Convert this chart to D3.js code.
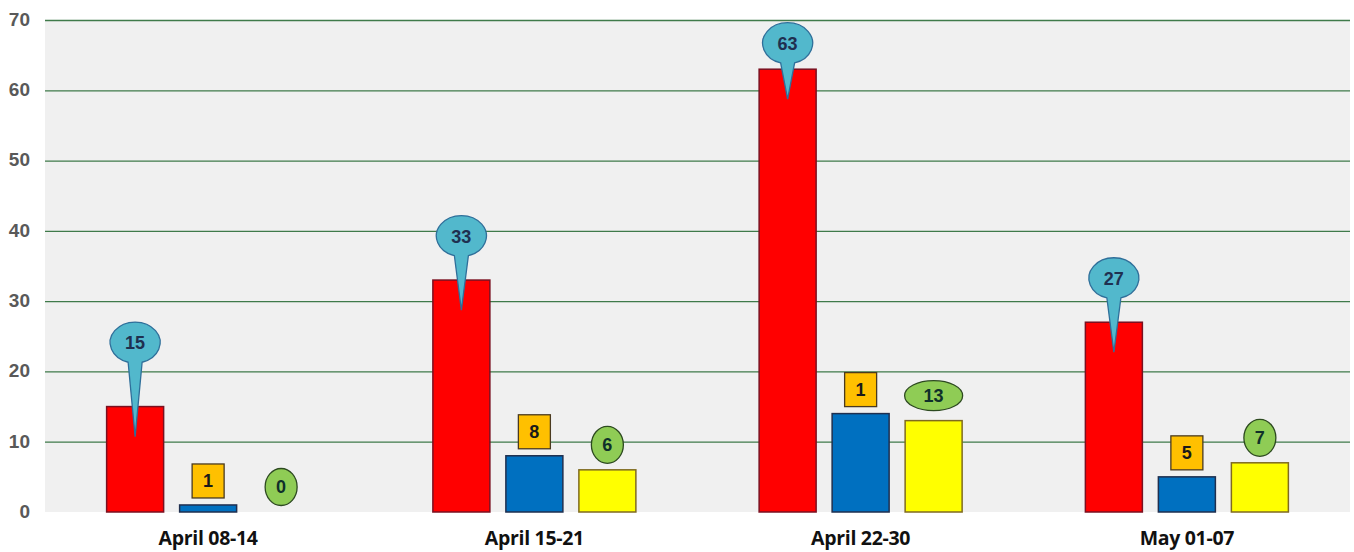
<!DOCTYPE html>
<html><head><meta charset="utf-8">
<script src="https://cdn.jsdelivr.net/npm/d3@7"></script>
<style>
html,body{margin:0;padding:0;background:#fff;}
svg{display:block;}
</style>
</head><body>
<svg id="chart" width="1354" height="552"></svg>
<script>
// ---- data ----
const categories = ["April 08-14", "April 15-21", "April 22-30", "May 01-07"];
const redValues = [15, 33, 63, 27];
const blueValues = [1, 8, 14, 5];
const yellowValues = [0, 6, 13, 7];
const redLabels = ["15", "33", "63", "27"];
const blueLabels = ["1", "8", "1", "5"];
const yellowLabels = ["0", "6", "13", "7"];
const yTicks = [0, 10, 20, 30, 40, 50, 60, 70];

// ---- layout (label placement, not data) ----
const calloutLift = [64, 44, 26, 44];

const W = 1354, H = 552;
const plot = {left: 45, right: 1350, top: 20, bottom: 512};
const svg = d3.select("#chart");

const x0 = d3.scaleBand().domain(categories).range([plot.left, plot.right]).padding(0);
const seriesKeys = ["red", "blue", "yellow"];
const bw = x0.bandwidth();
const groupW = 203;
const x1 = d3.scaleBand().domain(seriesKeys)
  .range([(bw - groupW) / 2, (bw + groupW) / 2]).paddingInner(16 / 73).paddingOuter(0);
const y = d3.scaleLinear().domain([0, 70]).range([plot.bottom, plot.top]);

// plot background
svg.append("rect").attr("x", plot.left).attr("y", plot.top)
  .attr("width", plot.right - plot.left).attr("height", plot.bottom - plot.top)
  .attr("fill", "#f0f0f0");

// gridlines + y tick labels
const yAxis = d3.axisLeft(y).tickValues(yTicks).tickSize(-(plot.right - plot.left)).tickPadding(15);
const gy = svg.append("g").attr("transform", `translate(${plot.left},0)`).call(yAxis);
gy.select(".domain").remove();
gy.selectAll(".tick line").attr("stroke", d => d === 0 ? "none" : "#3f7a4a").attr("stroke-width", 1.3);
gy.selectAll(".tick text").attr("fill", "#595959").attr("dy", "0.28em")
  .style("font-family", "'Liberation Sans', Arial, sans-serif")
  .style("font-weight", "bold").style("font-size", "19px");

// x axis labels
const xAxis = d3.axisBottom(x0).tickSize(0).tickPadding(19);
const gx = svg.append("g").attr("transform", `translate(0,${plot.bottom})`).call(xAxis);
gx.select(".domain").remove();
gx.selectAll(".tick text").attr("fill", "#111")
  .style("font-family", "'Open Sans', 'Liberation Sans', sans-serif")
  .style("font-weight", "bold").style("font-size", "19.5px")
  .style("letter-spacing", "-0.3px");

const series = [
  {key: "red", values: redValues, fill: "#ff0000", stroke: "#7a1020"},
  {key: "blue", values: blueValues, fill: "#0070c0", stroke: "#1f2f4f"},
  {key: "yellow", values: yellowValues, fill: "#ffff00", stroke: "#7f6a20"}
];

const bars = svg.append("g");
series.forEach(s => {
  bars.selectAll(null).data(s.values).enter().append("rect")
    .attr("x", (d, i) => x0(categories[i]) + x1(s.key))
    .attr("y", d => y(d))
    .attr("width", x1.bandwidth())
    .attr("height", d => y(0) - y(d))
    .attr("fill", s.fill)
    .attr("stroke", d => d === 0 ? "none" : s.stroke)
    .attr("stroke-width", 1.5);
});

const labelFont = "'Liberation Sans', Arial, sans-serif";
const labelSize = "18px";

// red callouts (wedge ellipse)
const cg = svg.append("g");
redValues.forEach((v, i) => {
  const cx = x0(categories[i]) + x1("red") + x1.bandwidth() / 2;
  const top = y(v);
  const rx = 25, ry = 20.5;
  const cy = top - calloutLift[i];
  const tipY = top + 30;
  const w = 7;
  const by = cy + ry * Math.sqrt(1 - (w / rx) * (w / rx));
  const p = `M${cx + w},${by} A${rx},${ry} 0 1 0 ${cx - w},${by} L${cx},${tipY} Z`;
  cg.append("path").attr("d", p).attr("fill", "#52b8cc").attr("stroke", "#2f6f9a").attr("stroke-width", 1.3);
  cg.append("text").attr("x", cx).attr("y", cy).attr("dy", "0.36em")
    .attr("text-anchor", "middle").attr("fill", "#1f3050")
    .style("font-family", labelFont).style("font-weight", "bold").style("font-size", labelSize)
    .text(redLabels[i]);
});

// blue labels (orange boxes)
blueValues.forEach((v, i) => {
  const cx = x0(categories[i]) + x1("blue") + x1.bandwidth() / 2;
  const cy = y(v) - 24;
  cg.append("rect").attr("x", cx - 16).attr("y", cy - 17).attr("width", 32).attr("height", 34)
    .attr("fill", "#ffc000").attr("stroke", "#4a3a20").attr("stroke-width", 1.3);
  cg.append("text").attr("x", cx).attr("y", cy).attr("dy", "0.36em")
    .attr("text-anchor", "middle").attr("fill", "#1a1a1a")
    .style("font-family", labelFont).style("font-weight", "bold").style("font-size", labelSize)
    .text(blueLabels[i]);
});

// yellow labels (green ellipses)
yellowValues.forEach((v, i) => {
  const cx = x0(categories[i]) + x1("yellow") + x1.bandwidth() / 2;
  const cy = y(v) - 25;
  const two = yellowLabels[i].length > 1;
  cg.append("ellipse").attr("cx", cx).attr("cy", cy)
    .attr("rx", two ? 29 : 16).attr("ry", two ? 15 : 18.5)
    .attr("fill", "#8fcc55").attr("stroke", "#2d4a20").attr("stroke-width", 1.3);
  cg.append("text").attr("x", cx).attr("y", cy).attr("dy", "0.36em")
    .attr("text-anchor", "middle").attr("fill", "#10302a")
    .style("font-family", labelFont).style("font-weight", "bold").style("font-size", labelSize)
    .text(yellowLabels[i]);
});
</script>
</body></html>
